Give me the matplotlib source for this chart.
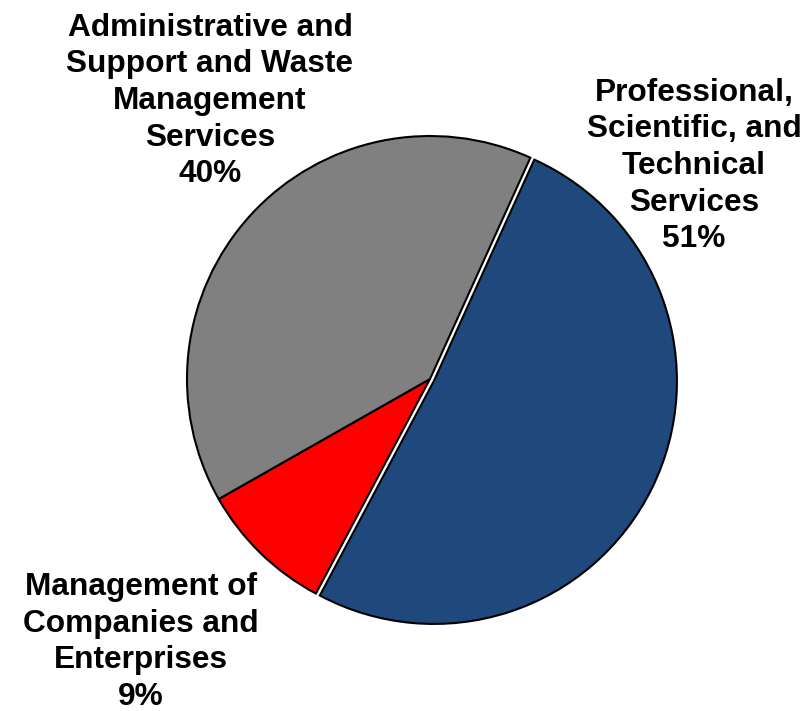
import matplotlib
matplotlib.use("Agg")
import matplotlib.pyplot as plt

categories = ["Professional,\nScientific, and\nTechnical\nServices",
              "Management of\nCompanies and\nEnterprises",
              "Administrative and\nSupport and Waste\nManagement\nServices"]
values = [51, 9, 40]
colors = ["#1F497D", "#FF0000", "#808080"]
explode = [0.018, 0, 0]

fig = plt.figure(figsize=(8.07, 7.11), dpi=100)
ax = fig.add_axes([0, 0, 1, 1])
R = 243.0
cx, cy = 430.0, 379.0

ax.pie(values, colors=colors, explode=explode, startangle=65.6, counterclock=False,
       radius=1.0, center=(0, 0), frame=True,
       wedgeprops=dict(edgecolor="black", linewidth=1.5))
ax.set_xlim(-cx / R, (807 - cx) / R)
ax.set_ylim(-(711 - cy) / R, cy / R)
ax.set_aspect("equal")
ax.axis("off")

label_px = [(694, 166), (141, 642), (210, 101)]
for cat, v, (px, py) in zip(categories, values, label_px):
    ax.text((px - cx) / R, (cy - py) / R, f"{cat}\n{v}%", ha="center", va="center",
            fontsize=22.8, fontweight="bold", family=["Liberation Sans", "DejaVu Sans"],
            linespacing=1.29, color="black")

fig.savefig("out.png", dpi=100)
